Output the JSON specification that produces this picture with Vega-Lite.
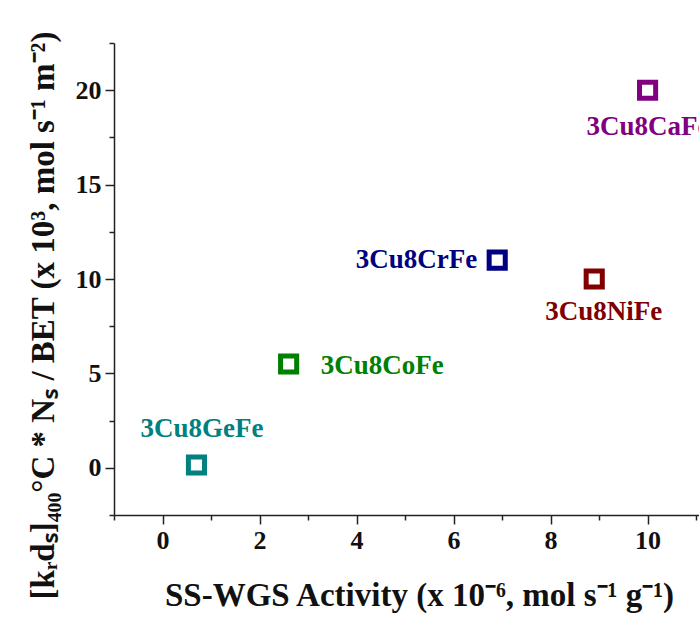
{
  "$schema": "https://vega.github.io/schema/vega-lite/v6.json",
  "width": 585,
  "height": 472,
  "autosize": "none",
  "padding": {"left": 114, "top": 43, "right": 0, "bottom": 102},
  "background": "white",
  "config": {
    "view": {"stroke": null},
    "font": "Liberation Serif",
    "axis": {
      "domainColor": "#222222",
      "domainWidth": 1.5,
      "tickColor": "#222222",
      "tickWidth": 1.5,
      "grid": false,
      "labelFont": "Liberation Serif",
      "labelFontWeight": "bold",
      "labelFontSize": 26,
      "labelColor": "#111111",
      "titleFont": "Liberation Serif",
      "titleFontWeight": "bold",
      "titleFontSize": 33,
      "titleColor": "#111111"
    }
  },
  "data": {
    "values": [
      {"sample": "3Cu8GeFe", "activity": 0.7, "rate": 0.15},
      {"sample": "3Cu8CoFe", "activity": 2.6, "rate": 5.5},
      {"sample": "3Cu8CrFe", "activity": 6.9, "rate": 11.0},
      {"sample": "3Cu8NiFe", "activity": 8.9, "rate": 10.0},
      {"sample": "3Cu8CaFe", "activity": 10.0, "rate": 20.0}
    ]
  },
  "resolve": {"axis": {"x": "independent", "y": "independent"}},
  "layer": [
    {
      "mark": {"type": "point", "shape": "square", "filled": false, "size": 260, "strokeWidth": 5, "opacity": 1},
      "encoding": {
        "x": {
          "field": "activity", "type": "quantitative",
          "scale": {"domain": [-1, 11.06], "nice": false, "zero": false},
          "axis": {
            "orient": "bottom",
            "values": [0, 2, 4, 6, 8, 10],
            "tickSize": 9,
            "labelPadding": 3,
            "title": "SS-WGS Activity (x 10⁻⁶, mol s⁻¹ g⁻¹)",
            "titlePadding": 26,
            "titleX": 305
          }
        },
        "y": {
          "field": "rate", "type": "quantitative",
          "scale": {"domain": [-2.5, 22.5], "nice": false, "zero": false},
          "axis": {
            "orient": "left",
            "values": [0, 5, 10, 15, 20],
            "tickSize": 9,
            "labelPadding": 4,
            "title": "[kᵣdₛ]₄₀₀°C * Nₛ / BET (x 10³, mol s⁻¹ m⁻²)",
            "titlePadding": 15,
            "titleY": 272
          }
        },
        "color": {
          "field": "sample", "type": "nominal", "legend": null,
          "scale": {
            "domain": ["3Cu8GeFe", "3Cu8CoFe", "3Cu8CrFe", "3Cu8NiFe", "3Cu8CaFe"],
            "range": ["#008080", "#008000", "#000080", "#800000", "#800080"]
          }
        }
      }
    },
    {
      "mark": {"type": "point", "opacity": 0},
      "encoding": {
        "x": {
          "field": "activity", "type": "quantitative",
          "axis": {"orient": "bottom", "values": [-1, 1, 3, 5, 7, 9, 11], "tickSize": 5, "labels": false, "domain": false, "title": null}
        },
        "y": {
          "field": "rate", "type": "quantitative",
          "axis": {"orient": "left", "values": [-2.5, 2.5, 7.5, 12.5, 17.5, 22.5], "tickSize": 5, "labels": false, "domain": false, "title": null}
        }
      }
    },
    {
      "transform": [{"filter": "datum.sample === '3Cu8GeFe'"}],
      "mark": {"type": "text", "fontWeight": "bold", "fontSize": 27, "align": "left", "baseline": "middle", "dx": -56, "dy": -36},
      "encoding": {
        "x": {"field": "activity", "type": "quantitative", "axis": null},
        "y": {"field": "rate", "type": "quantitative", "axis": null},
        "text": {"field": "sample"},
        "color": {"field": "sample", "type": "nominal", "legend": null}
      }
    },
    {
      "transform": [{"filter": "datum.sample === '3Cu8CoFe'"}],
      "mark": {"type": "text", "fontWeight": "bold", "fontSize": 27, "align": "left", "baseline": "middle", "dx": 32, "dy": 2},
      "encoding": {
        "x": {"field": "activity", "type": "quantitative", "axis": null},
        "y": {"field": "rate", "type": "quantitative", "axis": null},
        "text": {"field": "sample"},
        "color": {"field": "sample", "type": "nominal", "legend": null}
      }
    },
    {
      "transform": [{"filter": "datum.sample === '3Cu8CrFe'"}],
      "mark": {"type": "text", "fontWeight": "bold", "fontSize": 27, "align": "right", "baseline": "middle", "dx": -20, "dy": 0},
      "encoding": {
        "x": {"field": "activity", "type": "quantitative", "axis": null},
        "y": {"field": "rate", "type": "quantitative", "axis": null},
        "text": {"field": "sample"},
        "color": {"field": "sample", "type": "nominal", "legend": null}
      }
    },
    {
      "transform": [{"filter": "datum.sample === '3Cu8NiFe'"}],
      "mark": {"type": "text", "fontWeight": "bold", "fontSize": 27, "align": "left", "baseline": "middle", "dx": -49, "dy": 33},
      "encoding": {
        "x": {"field": "activity", "type": "quantitative", "axis": null},
        "y": {"field": "rate", "type": "quantitative", "axis": null},
        "text": {"field": "sample"},
        "color": {"field": "sample", "type": "nominal", "legend": null}
      }
    },
    {
      "transform": [{"filter": "datum.sample === '3Cu8CaFe'"}],
      "mark": {"type": "text", "fontWeight": "bold", "fontSize": 27, "align": "left", "baseline": "middle", "dx": -61, "dy": 37},
      "encoding": {
        "x": {"field": "activity", "type": "quantitative", "axis": null},
        "y": {"field": "rate", "type": "quantitative", "axis": null},
        "text": {"field": "sample"},
        "color": {"field": "sample", "type": "nominal", "legend": null}
      }
    }
  ]
}
